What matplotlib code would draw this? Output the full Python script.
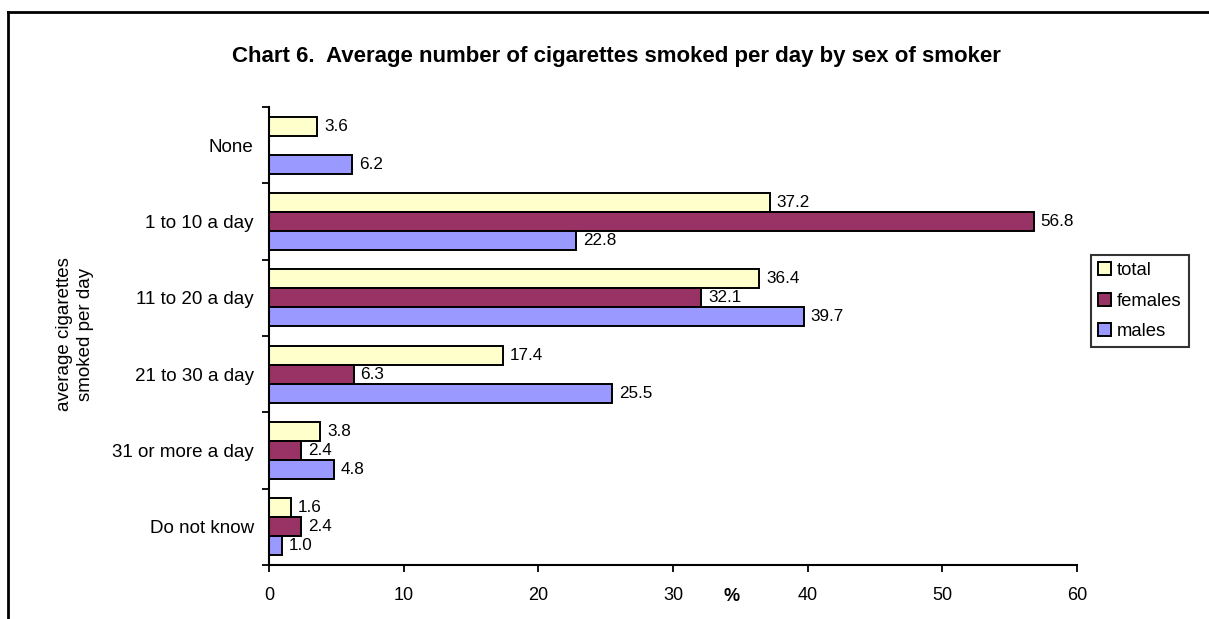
import numpy as np
import matplotlib
matplotlib.use("Agg")
import matplotlib.pyplot as plt
from matplotlib.lines import Line2D

plt.rcParams['font.family'] = ['Liberation Sans', 'DejaVu Sans']

categories = ['None', '1 to 10 a day', '11 to 20 a day', '21 to 30 a day',
              '31 or more a day', 'Do not know']
total = [3.6, 37.2, 36.4, 17.4, 3.8, 1.6]
females = [np.nan, 56.8, 32.1, 6.3, 2.4, 2.4]
males = [6.2, 22.8, 39.7, 25.5, 4.8, 1.0]
series_names = ['total', 'females', 'males']
colors = ['#FFFFCC', '#993366', '#9999FF']

fig = plt.figure(figsize=(12.09, 6.19), dpi=100)
ax = fig.add_axes([0.2225, 0.0872, 0.6683, 0.7399])

y = np.arange(len(categories))
h = 0.25
offsets = [-h, 0, h]
for vals, off, col, name in zip([total, females, males], offsets, colors, series_names):
    vals = np.array(vals, dtype=float)
    ax.barh(y + off, np.nan_to_num(vals), height=h, color=col, edgecolor='black',
            linewidth=1.4, label=name)
    for yi, v in zip(y, vals):
        if not np.isnan(v):
            ax.text(v + 0.5, yi + off, f'{v:.1f}', va='center', ha='left', fontsize=12.3)

ax.set_ylim(len(categories) - 0.5, -0.5)
ax.set_xlim(0, 60)
ax.set_xticks(range(0, 61, 10))
ax.set_yticks(y)
ax.set_yticklabels(categories)
ax.set_yticks(np.arange(-0.5, len(categories), 1), minor=True)
ax.tick_params(axis='y', which='major', length=0, pad=11, labelsize=13.5)
ax.tick_params(axis='y', which='minor', length=5, width=1.3)
ax.tick_params(axis='x', length=5, width=1.3, pad=11, labelsize=13)
for s in ['top', 'right']:
    ax.spines[s].set_visible(False)
for s in ['left', 'bottom']:
    ax.spines[s].set_linewidth(1.5)

ax.annotate('%', xy=(34.35, 0), xycoords=('data', 'axes fraction'),
            xytext=(0, -23), textcoords='offset points', ha='center', va='center',
            fontsize=13, fontweight='bold')

fig.text(0.51, 0.908, 'Chart 6.  Average number of cigarettes smoked per day by sex of smoker',
         ha='center', va='center', fontsize=16, fontweight='bold')
fig.text(0.062, 0.46, 'average cigarettes\nsmoked per day', rotation=90,
         ha='center', va='center', fontsize=13.5, linespacing=1.3)

leg = fig.legend(loc='upper left', bbox_to_anchor=(0.9024, 0.588), frameon=True,
                 fancybox=False, edgecolor='black', fontsize=13.3,
                 handlelength=0.7, handleheight=0.7, handletextpad=0.3,
                 borderpad=0.4, labelspacing=0.72, borderaxespad=0)
leg.get_frame().set_linewidth(1.5)

# outer border (top and left only)
fig.add_artist(Line2D([0.0066, 1.0], [0.981, 0.981], color='black', linewidth=2,
                      transform=fig.transFigure))
fig.add_artist(Line2D([0.0066, 0.0066], [0.0, 0.981], color='black', linewidth=2,
                      transform=fig.transFigure))

fig.savefig('out.png', dpi=100)
